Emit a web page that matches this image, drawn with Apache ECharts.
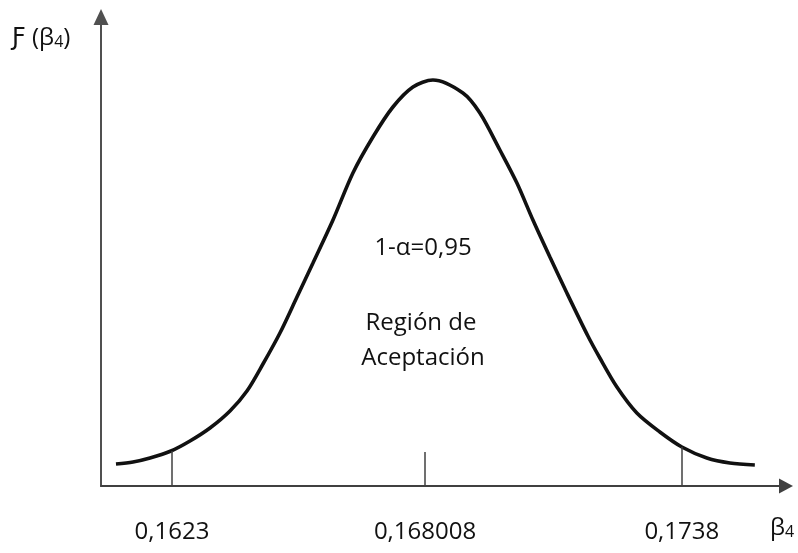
<!DOCTYPE html>
<html>
<head>
<meta charset="utf-8">
<script src="https://cdn.jsdelivr.net/npm/echarts@6/dist/echarts.min.js"></script>
<style>
html,body{margin:0;padding:0;background:#fff;}
#chart{width:798px;height:553px;}
</style>
</head>
<body>
<div id="chart"></div>
<script>
// Curve: beta4 values and relative density (arbitrary units)
var curveX = [0.161038, 0.161422, 0.161805, 0.162278, 0.162707, 0.163158, 0.163609, 0.163992,
  0.164353, 0.164736, 0.16512, 0.165481, 0.165932, 0.166382, 0.166833, 0.167284, 0.167736,
  0.168186, 0.168863, 0.169246, 0.169697, 0.170081, 0.170442, 0.170825, 0.171208, 0.171682,
  0.171952, 0.172336, 0.172786, 0.173305, 0.173801, 0.174365, 0.174884, 0.175447];
var curveY = [22, 24, 28, 35, 45, 58, 75, 95, 122, 153, 189, 223, 266, 313, 349, 379, 399,
  406, 393, 373, 336, 303, 266, 229, 193, 150, 128, 99, 73, 54, 39, 28, 23, 21];
// Tick marks (value, height up to curve) and their labels
var tickValues = [0.1623, 0.168008, 0.1738];
var tickHeights = [35, 34, 39];
var tickLabels = ['0,1623', '0,168008', '0,1738'];
var axisMin = 0.1607, axisMax = 0.17615, yMax = 469;

var FONT = '"Open Sans", "DejaVu Sans", sans-serif';
var chart = echarts.init(document.getElementById('chart'), null, {renderer: 'canvas'});

var curveData = curveX.map(function (x, i) { return [x, curveY[i]]; });
var tickLines = tickValues.map(function (v, i) {
  return [{coord: [v, 0]}, {coord: [v, tickHeights[i]]}];
});

chart.setOption({
  animation: false,
  backgroundColor: '#ffffff',
  grid: {left: 101, right: 12, top: 17, bottom: 67, containLabel: false},
  xAxis: {
    type: 'value', min: axisMin, max: axisMax,
    axisLine: {show: true, lineStyle: {color: '#404040', width: 2}, symbol: ['none', 'triangle'], symbolSize: [15, 14]},
    axisTick: {show: false},
    splitLine: {show: false},
    axisLabel: {
      show: true, customValues: tickValues, margin: 34,
      color: '#111', fontFamily: FONT, fontSize: 24,
      formatter: function (v) {
        var best = 0;
        for (var i = 0; i < tickValues.length; i++) {
          if (Math.abs(tickValues[i] - v) < Math.abs(tickValues[best] - v)) best = i;
        }
        return tickLabels[best];
      }
    }
  },
  yAxis: {
    type: 'value', min: 0, max: yMax,
    axisLine: {show: true, lineStyle: {color: '#505050', width: 2}, symbol: ['none', 'triangle'], symbolSize: [15, 16]},
    axisTick: {show: false}, axisLabel: {show: false}, splitLine: {show: false}
  },
  series: [{
    type: 'line',
    data: curveData,
    smooth: 0.3,
    showSymbol: false,
    lineStyle: {color: '#111', width: 3.6},
    silent: true,
    markLine: {
      silent: true, symbol: ['none', 'none'],
      label: {show: false},
      lineStyle: {color: '#404040', width: 1.5, type: 'solid'},
      data: tickLines
    }
  }],
  graphic: [
    {type: 'text', left: 12, top: 26, style: {
      text: 'Ƒ (β{s|4})', fill: '#111', font: '24px ' + FONT,
      rich: {s: {fontSize: 16, fontFamily: FONT, verticalAlign: 'bottom', fill: '#111'}}
    }},
    {type: 'text', left: 770, top: 516, style: {
      text: 'β{s|4}', fill: '#111', font: '24px ' + FONT,
      rich: {s: {fontSize: 16, fontFamily: FONT, verticalAlign: 'bottom', fill: '#111'}}
    }},
    {type: 'text', x: 423, y: 248, style: {text: '1-α=0,95', fill: '#111', font: '24px ' + FONT, align: 'center', verticalAlign: 'middle'}},
    {type: 'text', x: 421, y: 323, style: {text: 'Región de', fill: '#111', font: '24px ' + FONT, align: 'center', verticalAlign: 'middle'}},
    {type: 'text', x: 423, y: 358, style: {text: 'Aceptación', fill: '#111', font: '24px ' + FONT, align: 'center', verticalAlign: 'middle'}}
  ]
});
</script>
</body>
</html>
